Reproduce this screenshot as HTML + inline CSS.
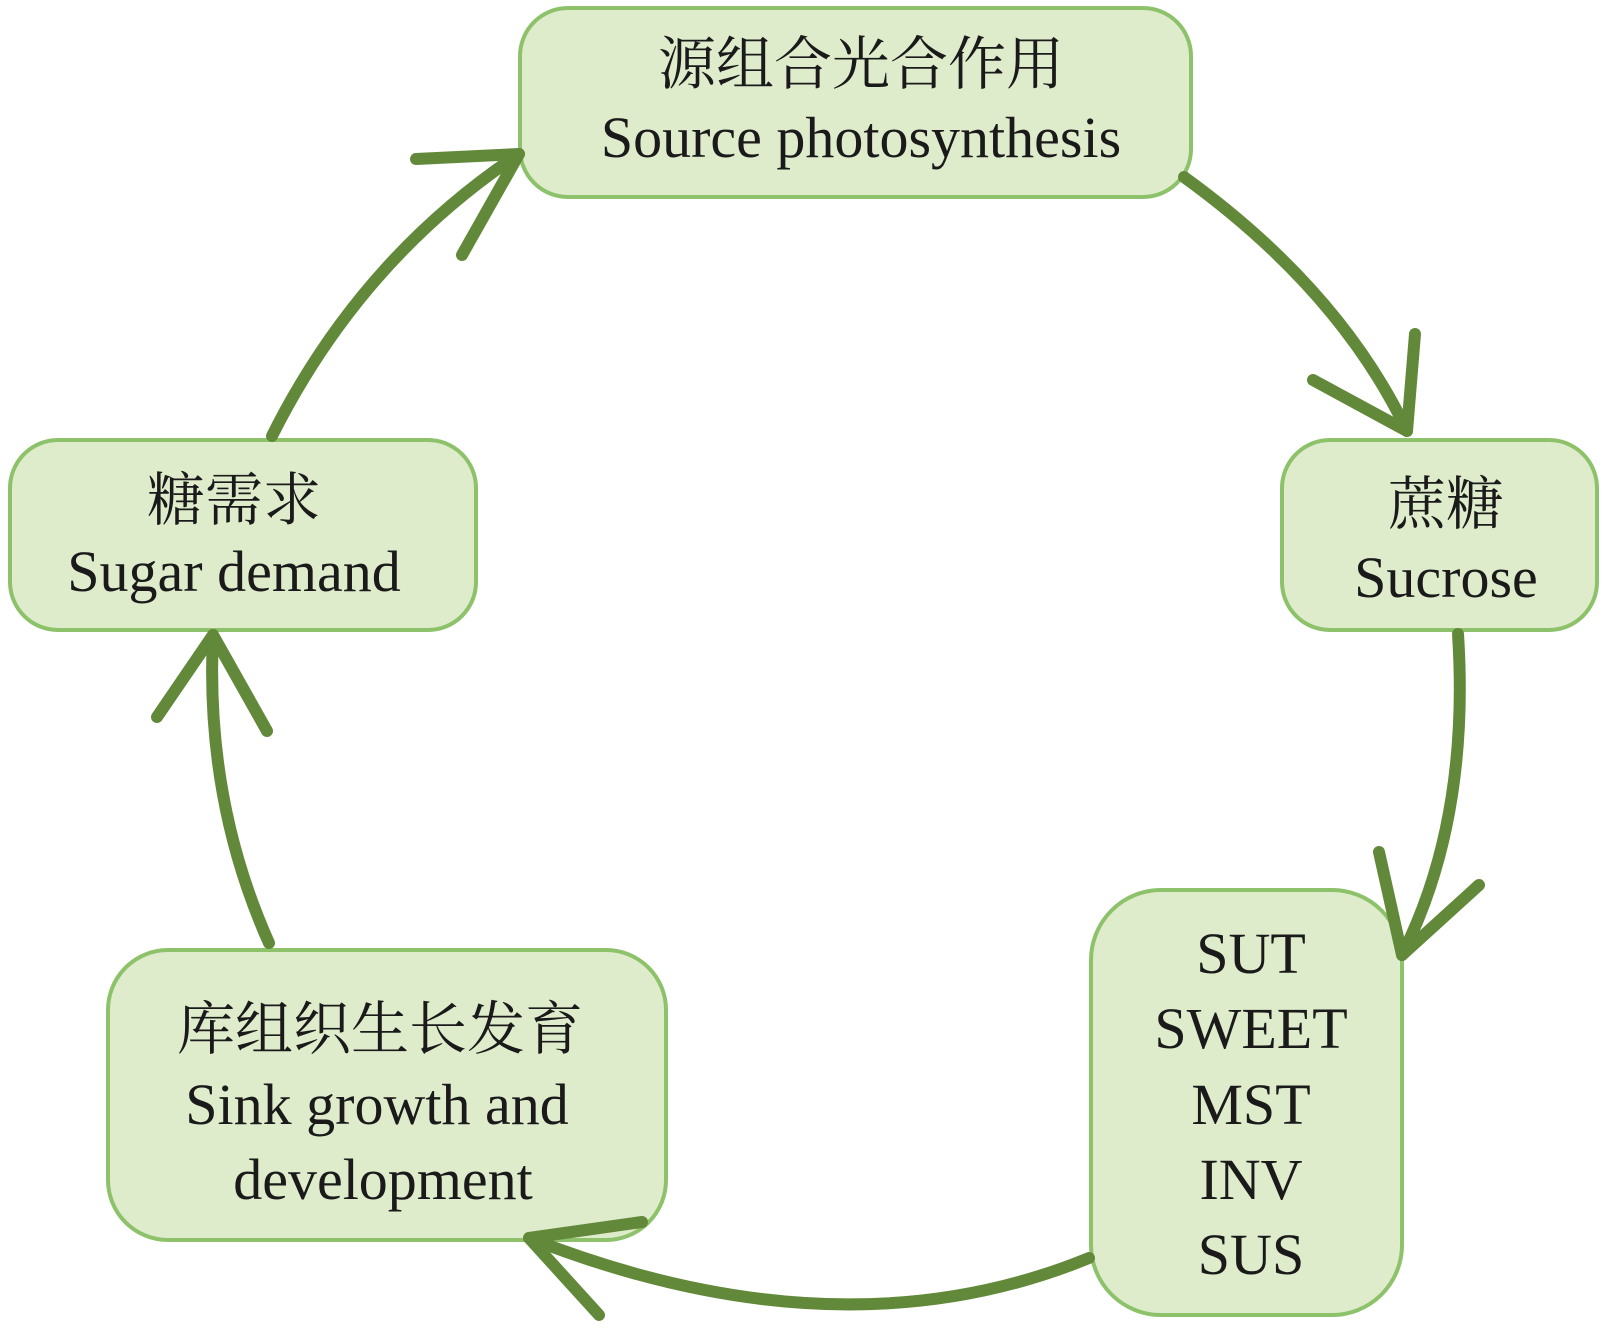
<!DOCTYPE html>
<html><head><meta charset="utf-8"><style>
html,body{margin:0;padding:0;background:#fff;}
svg{display:block;}
text{font-family:"Liberation Serif","Noto Serif CJK SC",serif;fill:#1a1a1a;}
.cn{font-size:58px;}
.en{font-size:58px;}
</style></head><body>
<svg width="1611" height="1336" viewBox="0 0 1611 1336" xmlns="http://www.w3.org/2000/svg">
<g fill="#dfeccc" stroke="#8dc26b" stroke-width="4">
<rect x="520" y="8" width="671" height="189" rx="48"/>
<rect x="10" y="440" width="466" height="190" rx="48"/>
<rect x="1282" y="440" width="315" height="190" rx="48"/>
<rect x="1091" y="890" width="311" height="425" rx="70"/>
<rect x="108" y="950" width="558" height="290" rx="60"/>
</g>
<g fill="none" stroke="#62893a" stroke-width="12" stroke-linecap="round" stroke-linejoin="round">
<path d="M1184,177 Q1340,290 1407,431"/>
<path d="M1415,334 L1407,431 L1313,380"/>
<path d="M1458,634 Q1470,820 1402,955"/>
<path d="M1379,852 L1402,955 L1479,885"/>
<path d="M1089,1258 Q840,1360 529,1238"/>
<path d="M642,1222 L529,1238 L599,1315"/>
<path d="M269,943 Q205,800 213,635"/>
<path d="M157,717 L213,635 L267,731"/>
<path d="M272,436 Q360,260 519,154"/>
<path d="M416,159 L519,154 L462,255"/>
</g>
<g text-anchor="middle">
<text class="cn" x="861" y="84">源组合光合作用</text>
<text class="en" x="861" y="157">Source photosynthesis</text>
<text class="cn" x="234" y="520">糖需求</text>
<text class="en" x="234" y="591">Sugar demand</text>
<text class="cn" x="1446" y="524">蔗糖</text>
<text class="en" x="1446" y="597">Sucrose</text>
<text class="en" x="1251" y="973">SUT</text>
<text class="en" x="1251" y="1048">SWEET</text>
<text class="en" x="1251" y="1124">MST</text>
<text class="en" x="1251" y="1199">INV</text>
<text class="en" x="1251" y="1274">SUS</text>
<text class="cn" x="380" y="1049">库组织生长发育</text>
<text class="en" x="377" y="1124">Sink growth and</text>
<text class="en" x="383" y="1199">development</text>
</g>
</svg>
</body></html>
